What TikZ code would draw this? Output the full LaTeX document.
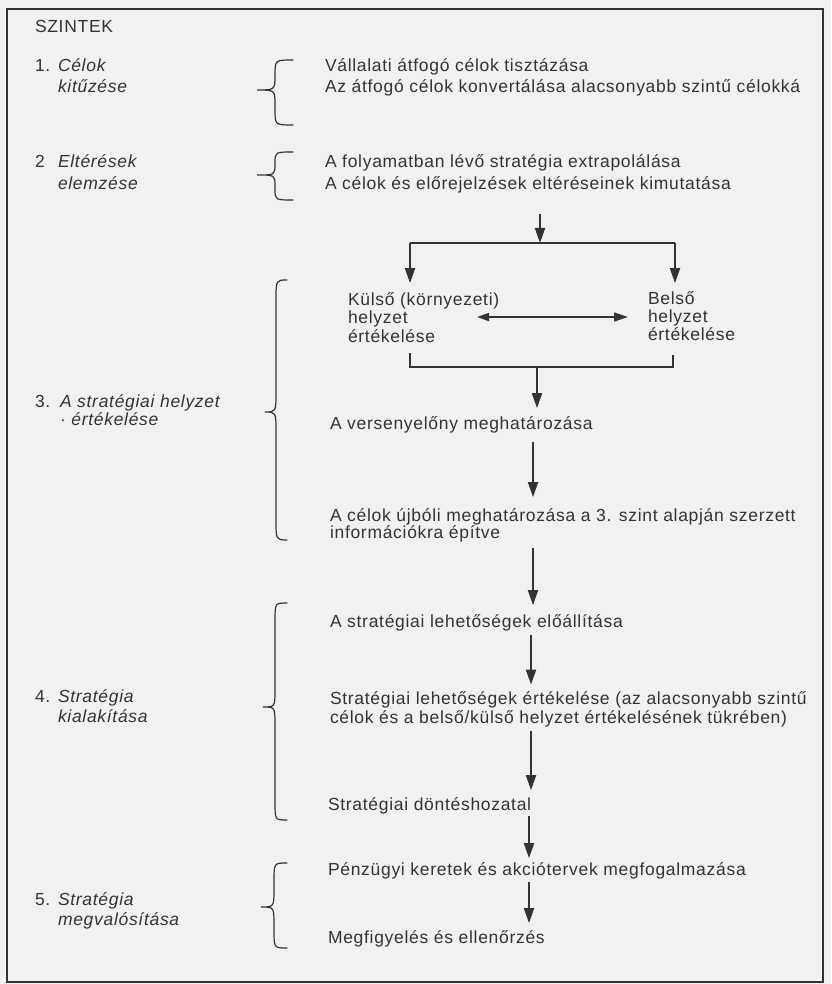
\documentclass[tikz,border=0pt]{standalone}
\usepackage{fontspec}
\setmainfont{Liberation Sans}[LetterSpace=4]
\usetikzlibrary{arrows.meta}
\definecolor{ink}{HTML}{333333}
\definecolor{paper}{HTML}{F1F1F1}

% curly brace: x of the ends, x of the tip, y top, y tip, y bottom, corner radius
\newcommand\curly[6]{%
  \pgfmathsetmacro\cbm{(#1+#2)/2}%
  \draw[bracestyle] (#1,#3) .. controls (\cbm,#3) .. (\cbm,#3+#6) -- (\cbm,#4-#6)
    .. controls (\cbm,#4) .. (#2,#4) .. controls (\cbm,#4) .. (\cbm,#4+#6)
    -- (\cbm,#5-#6) .. controls (\cbm,#5) .. (#1,#5);}

\begin{document}
\begin{tikzpicture}[x=0.5pt,y=-0.5pt,
  every node/.style={inner sep=0pt,outer sep=0pt,text=ink},
  % multi-line nodes are placed by the baseline of their last line
  txt/.style={anchor=base west,align=left,font=\fontsize{8.75}{#1}\selectfont},
  txt/.default=10,
  lvl/.style={anchor=base west,align=left,font=\fontsize{8.75}{#1}\selectfont\itshape},
  lvl/.default=10,
  flow/.style={draw=ink,line width=1pt,-{Triangle[width=5pt,length=7.5pt]}},
  wire/.style={draw=ink,line width=1pt},
  twoway/.style={draw=ink,line width=0.8pt,{Triangle[width=4pt,length=6pt]}-{Triangle[width=4.5pt,length=7pt]}},
  bracestyle/.style={draw=ink,line width=0.6pt,line cap=round},
  frame/.style={draw=ink,line width=1pt}]

\fill[paper] (0,0) rectangle (831,984);
\useasboundingbox (0,0) rectangle (831,984);
\draw[frame] (7,9) rectangle (823,982);

% left column: levels
\node[txt] (title) at (35,33) {SZINTEK};
\node[txt] (n1) at (35,72) {1.};
\node[lvl=10.5] (l1) at (58,93) {Célok\\kitűzése};
\node[txt] (n2) at (35,168) {2};
\node[lvl=11] (l2) at (58,190) {Eltérések\\elemzése};
\node[txt] (n3) at (35,407) {3.};
\node[lvl=9] (l3) at (60,425) {A stratégiai helyzet\\· értékelése};
\node[txt] (n4) at (35,702) {4.};
\node[lvl=10] (l4) at (58,722) {Stratégia\\kialakítása};
\node[txt] (n5) at (35,905) {5.};
\node[lvl=10] (l5) at (58,925) {Stratégia\\megvalósítása};

% braces
\curly{293}{257}{60}{90}{125}{15}
\curly{293}{257}{152}{175}{200}{11}
\curly{287}{265}{280}{412}{540}{20}
\curly{287}{263}{603}{707}{820}{18}
\curly{287}{261}{863}{907}{948}{18}

% right column: activities
\node[txt=10.5] (r1) at (325,93) {Vállalati átfogó célok tisztázása\\Az átfogó célok konvertálása alacsonyabb szintű célokká};
\node[txt=11] (r2) at (325,190) {A folyamatban lévő stratégia extrapolálása\\A célok és előrejelzések eltéréseinek kimutatása};
\node[txt=9.25] (kulso) at (348,342) {Külső (környezeti)\\helyzet\\értékelése};
\node[txt=9] (belso) at (648,340) {Belső\\helyzet\\értékelése};
\node[txt] (verseny) at (330,429) {A versenyelőny meghatározása};
\node[txt=8.5] (ujboli) at (330,538) {A célok újbóli meghatározása a 3. szint alapján szerzett\\információkra építve};
\node[txt] (lehet) at (330,627) {A stratégiai lehetőségek előállítása};
\node[txt=7.8] (ertek) at (330,723) {Stratégiai lehetőségek értékelése (az alacsonyabb szintű\\célok és a belső/külső helyzet értékelésének tükrében)};
\node[txt] (dontes) at (328,810) {Stratégiai döntéshozatal};
\node[txt] (penz) at (328,875) {Pénzügyi keretek és akciótervek megfogalmazása};
\node[txt] (megf) at (328,943) {Megfigyelés és ellenőrzés};

% branching and merging points
\coordinate (split) at (540,243);
\coordinate (splitL) at (410,243);
\coordinate (splitR) at (675,243);
\coordinate (mergeL) at (410,367);
\coordinate (merge) at (537,367);
\coordinate (mergeR) at (673,367);
\coordinate (xchg) at (477,317);
\coordinate (spineA) at (533,0);
\coordinate (spineB) at (531,0);
\coordinate (spineC) at (529,0);

% connectors
\draw[flow,shorten <=10pt] (r2.south -| split) -- (split);
\draw[wire] (splitL) -- (splitR);
\draw[flow,shorten >=4.5pt] (splitL) -- (kulso.north -| splitL);
\draw[flow,shorten >=4pt] (splitR) -- (belso.north -| splitR);
\draw[twoway,shorten >=10pt] (xchg) -- (belso.west |- xchg);
\draw[wire,shorten <=5.5pt] (kulso.south -| mergeL) -- (mergeL) -- (mergeR) -- ([yshift=6pt]mergeR);
\draw[flow,shorten >=4pt] (merge) -- (verseny.north -| merge);
\draw[flow,shorten <=4.5pt,shorten >=5.5pt] (verseny.south -| spineA) -- (ujboli.north -| spineA);
\draw[flow,shorten <=3pt,shorten >=4.5pt] (ujboli.south -| spineA) -- (lehet.north -| spineA);
\draw[flow,shorten <=2pt,shorten >=3.5pt] (lehet.south -| spineB) -- (ertek.north -| spineB);
\draw[flow,shorten <=2pt,shorten >=3.5pt] (ertek.south -| spineB) -- (dontes.north -| spineB);
\draw[flow,shorten <=1pt,shorten >=2pt] (dontes.south -| spineC) -- (penz.north -| spineC);
\draw[flow,shorten <=1.5pt,shorten >=3.5pt] (penz.south -| spineC) -- (megf.north -| spineC);
\end{tikzpicture}
\end{document}
